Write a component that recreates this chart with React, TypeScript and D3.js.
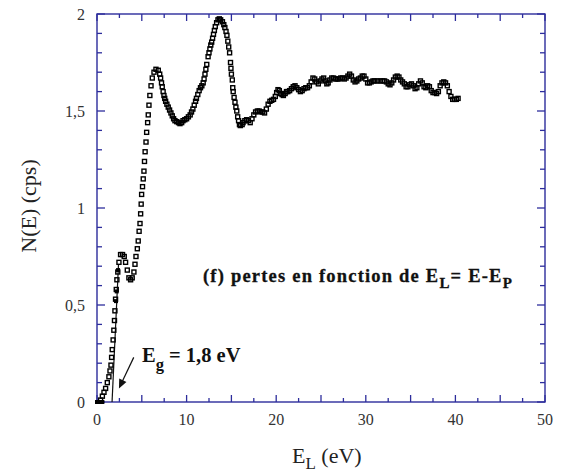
import React from "react";
import * as d3 from "d3";

// Measured spectrum: energy loss E_L (eV) and N(E) (cps)
const energies: number[] = [
  0.4, 0.6, 0.78, 0.96, 1.15, 1.33, 1.45, 1.56, 1.63, 1.7, 1.8, 1.88, 1.95, 2.0, 2.07, 2.15, 2.22, 2.32, 2.45, 2.63,
  2.85, 3.04, 3.19, 3.38, 3.56, 3.75, 3.93, 4.12, 4.24, 4.35, 4.5, 4.6, 4.7, 4.8, 4.87, 4.93, 4.98, 5.08, 5.16, 5.24,
  5.3, 5.37, 5.47, 5.54, 5.65, 5.72, 5.8, 5.9, 6.03, 6.17, 6.36, 6.58, 6.84, 7.0, 7.1, 7.2, 7.28, 7.38, 7.47, 7.56,
  7.66, 7.8, 7.95, 8.1, 8.25, 8.4, 8.55, 8.7, 8.9, 9.1, 9.26, 9.45, 9.6, 9.8, 10.0, 10.2, 10.4, 10.55, 10.7, 10.85,
  11.0, 11.1, 11.25, 11.4, 11.55, 11.7, 11.85, 11.95, 12.05, 12.15, 12.25, 12.4, 12.5, 12.6, 12.7, 12.8, 12.9, 13.0, 13.1, 13.2,
  13.35, 13.5, 13.65, 13.8, 14.0, 14.15, 14.27, 14.4, 14.5, 14.6, 14.7, 14.8, 14.9, 14.95, 15.0, 15.1, 15.15, 15.2, 15.3, 15.4,
  15.5, 15.6, 15.7, 15.8, 15.9, 16.0, 16.2, 16.3, 16.5, 16.7, 16.9, 17.1, 17.3, 17.5, 17.7, 17.9, 18.1, 18.3, 18.5, 18.7,
  18.9, 19.1, 19.3, 19.5, 19.7, 19.9, 20.05, 20.2, 20.35, 20.5, 20.65, 20.8, 21.0, 21.15, 21.3, 21.5, 21.7, 21.9, 22.1, 22.3,
  22.5, 22.7, 22.9, 23.1, 23.3, 23.5, 23.7, 23.9, 24.1, 24.3, 24.5, 24.7, 24.9, 25.1, 25.3, 25.5, 25.65, 25.8, 26.0, 26.2,
  26.4, 26.6, 26.8, 27.0, 27.2, 27.4, 27.6, 27.8, 28.0, 28.2, 28.4, 28.6, 28.8, 29.0, 29.2, 29.4, 29.6, 29.8, 30.0, 30.2,
  30.4, 30.6, 30.8, 31.0, 31.3, 31.6, 31.9, 32.1, 32.3, 32.5, 32.7, 32.9, 33.1, 33.3, 33.5, 33.7, 33.9, 34.1, 34.3, 34.5,
  34.7, 34.9, 35.1, 35.3, 35.5, 35.7, 35.9, 36.1, 36.3, 36.5, 36.7, 36.9, 37.1, 37.3, 37.5, 37.7, 37.9, 38.1, 38.3, 38.5,
  38.7, 38.9, 39.1, 39.3, 39.5, 39.7, 39.9, 40.1, 40.3,
];
const counts: number[] = [
  0.01, 0.03, 0.05, 0.07, 0.1, 0.13, 0.16, 0.19, 0.23, 0.27, 0.32, 0.37, 0.42, 0.47, 0.53, 0.58, 0.63, 0.67, 0.72, 0.76,
  0.76, 0.75, 0.72, 0.68, 0.64, 0.63, 0.64, 0.67, 0.71, 0.75, 0.79, 0.83, 0.88, 0.92, 0.97, 1.02, 1.07, 1.11, 1.15, 1.19,
  1.24, 1.29, 1.34, 1.39, 1.44, 1.48, 1.53, 1.58, 1.63, 1.67, 1.7, 1.715, 1.71, 1.69, 1.67, 1.645, 1.625, 1.6, 1.58, 1.565,
  1.55, 1.535, 1.52, 1.505, 1.49, 1.475, 1.46, 1.45, 1.445, 1.44, 1.435, 1.44, 1.45, 1.455, 1.46, 1.47, 1.48, 1.495, 1.51, 1.53,
  1.55, 1.565, 1.585, 1.605, 1.62, 1.63, 1.645, 1.665, 1.69, 1.715, 1.74, 1.78, 1.8, 1.82, 1.84, 1.855, 1.875, 1.895, 1.915, 1.935,
  1.955, 1.97, 1.975, 1.97, 1.96, 1.945, 1.93, 1.91, 1.89, 1.86, 1.83, 1.8, 1.75, 1.72, 1.69, 1.66, 1.62, 1.6, 1.57, 1.545,
  1.52, 1.5, 1.47, 1.45, 1.43, 1.425, 1.43, 1.44, 1.45, 1.455, 1.45, 1.44, 1.46, 1.48, 1.495, 1.5, 1.5, 1.495, 1.495, 1.49,
  1.51, 1.535, 1.55, 1.555, 1.56, 1.575, 1.595, 1.61, 1.605, 1.59, 1.585, 1.58, 1.59, 1.6, 1.6, 1.605, 1.615, 1.625, 1.63, 1.62,
  1.61, 1.6, 1.605, 1.615, 1.62, 1.62, 1.63, 1.65, 1.67, 1.665, 1.65, 1.64, 1.655, 1.665, 1.67, 1.655, 1.64, 1.645, 1.66, 1.67,
  1.67, 1.665, 1.665, 1.665, 1.67, 1.67, 1.665, 1.67, 1.68, 1.69, 1.68, 1.66, 1.65, 1.655, 1.665, 1.67, 1.68, 1.68, 1.665, 1.645,
  1.645, 1.65, 1.655, 1.655, 1.655, 1.655, 1.655, 1.655, 1.65, 1.64, 1.635, 1.645, 1.66, 1.675, 1.68, 1.675, 1.66, 1.65, 1.64, 1.625,
  1.625, 1.635, 1.64, 1.63, 1.615, 1.62, 1.64, 1.655, 1.645, 1.625, 1.62, 1.63, 1.625, 1.605, 1.595, 1.595, 1.59, 1.6, 1.63, 1.645,
  1.65, 1.645, 1.63, 1.6, 1.575, 1.56, 1.56, 1.56, 1.565,
];

// Linear fit near the gap (filled points and line)
const fitEnergies: number[] = [0, 0.15, 0.3, 0.45, 0.6, 2.12, 2.2, 2.35];
const fitCounts: number[] = [0, 0, 0, 0, 0, 0.52, 0.57, 0.68];
const fitLineE: number[] = [1.68, 2.4];
const fitLineN: number[] = [0, 0.71];

const xTickLabels: number[] = [0, 10, 20, 30, 40, 50];
const yTickLabels: number[] = [0, 0.5, 1, 1.5, 2];

const W = 564;
const H = 473;
const AX = "#2d2d9c";
const SERIF = "Liberation Serif";

export default function App() {
  const x = d3.scaleLinear().domain([0, 50]).range([97, 545]);
  const y = d3.scaleLinear().domain([0, 2]).range([402, 14]);
  const [x0, x1] = x.range();
  const [y0, y1] = y.range();

  const xTicks = d3.range(0, 50.001, 2.5);
  const yTicks = d3.range(0, 2.0001, 0.1);
  const isMajorX = (v: number) => Math.abs(v / 5 - Math.round(v / 5)) < 1e-6;
  const isMajorY = (v: number) => Math.abs(v / 0.5 - Math.round(v / 0.5)) < 1e-6;
  const fmt = (v: number) => String(+v.toFixed(1)).replace(".", ",");

  const fitLine = d3
    .line<number>()
    .x((_, i) => x(fitLineE[i]))
    .y((d) => y(d))(fitLineN) as string;

  const s = 4;
  const ax1 = x(4.1), ay1 = y(0.23);
  const ax2 = x(2.45), ay2 = y(0.07);
  const ang = Math.atan2(ay2 - ay1, ax2 - ax1);
  const hl = 9, hw = 4;
  const head = [
    [ax2, ay2],
    [ax2 - hl * Math.cos(ang) + hw * Math.sin(ang), ay2 - hl * Math.sin(ang) - hw * Math.cos(ang)],
    [ax2 - hl * Math.cos(ang) - hw * Math.sin(ang), ay2 - hl * Math.sin(ang) + hw * Math.cos(ang)],
  ]
    .map((p) => p.join(","))
    .join(" ");

  const tf = { fontFamily: SERIF };

  return (
    <svg width={W} height={H} style={{ position: "absolute", left: 0, top: 0, background: "#ffffff" }}>
      {/* frame */}
      <rect x={x0} y={y1} width={x1 - x0} height={y0 - y1} fill="none" stroke={AX} strokeWidth={1.4} />
      {xTicks.map((v) => {
        const len = isMajorX(v) ? 7 : 4;
        return (
          <g key={"xt" + v}>
            <line x1={x(v)} x2={x(v)} y1={y0} y2={y0 - len} stroke={AX} strokeWidth={1.3} />
            <line x1={x(v)} x2={x(v)} y1={y1} y2={y1 + len} stroke={AX} strokeWidth={1.3} />
          </g>
        );
      })}
      {yTicks.map((v) => {
        const len = isMajorY(v) ? 8 : 5;
        return (
          <g key={"yt" + v.toFixed(1)}>
            <line x1={x0} x2={x0 + len} y1={y(v)} y2={y(v)} stroke={AX} strokeWidth={1.3} />
            <line x1={x1} x2={x1 - len} y1={y(v)} y2={y(v)} stroke={AX} strokeWidth={1.3} />
          </g>
        );
      })}
      {xTickLabels.map((v) => (
        <text key={"xl" + v} x={x(v)} y={425} textAnchor="middle" fontSize={16} fill="#333" style={tf}>
          {fmt(v)}
        </text>
      ))}
      {yTickLabels.map((v) => (
        <text key={"yl" + v} x={85} y={y(v) + 5.5} textAnchor="end" fontSize={16} fill="#333" style={tf}>
          {fmt(v)}
        </text>
      ))}

      {/* axis titles */}
      <text transform="translate(36,206) rotate(-90)" textAnchor="middle" fontSize={22} fill="#222" style={tf}>
        N(E) (cps)
      </text>
      <text x={292} y={463} fontSize={22} fill="#222" style={tf}>
        E
        <tspan fontSize={17} dy={6}>L</tspan>
        <tspan dy={-6}> (eV)</tspan>
      </text>

      {/* fit line */}
      <path d={fitLine} fill="none" stroke="#111" strokeWidth={1.2} />

      {/* data points */}
      {energies.map((e, i) => (
        <rect
          key={"p" + i}
          x={x(e) - s / 2}
          y={y(counts[i]) - s / 2}
          width={s}
          height={s}
          fill="none"
          stroke="#000"
          strokeWidth={1.4}
        />
      ))}
      {fitEnergies.map((e, i) => (
        <rect
          key={"f" + i}
          x={x(e) - s / 2}
          y={y(fitCounts[i]) - s / 2}
          width={s}
          height={s}
          fill="#000"
        />
      ))}

      {/* annotations */}
      <text x={203} y={282} fontSize={18.5} fontWeight="bold" fill="#111" letterSpacing={1.2} stroke="#111" strokeWidth={0.3} style={tf}>
        (f) pertes en fonction de E
        <tspan fontSize={15} dy={6}>L</tspan>
        <tspan dy={-6}>= E-E</tspan>
        <tspan fontSize={15} dy={6}>P</tspan>
      </text>
      <text x={142} y={362} fontSize={20.5} fontWeight="bold" fill="#111" style={tf}>
        E
        <tspan fontSize={16.5} dy={8}>g</tspan>
        <tspan dy={-8}> = 1,8 eV</tspan>
      </text>
      <line x1={ax1} y1={ay1} x2={ax2 - 6 * Math.cos(ang)} y2={ay2 - 6 * Math.sin(ang)} stroke="#111" strokeWidth={1.2} />
      <polygon points={head} fill="#111" />
    </svg>
  );
}
